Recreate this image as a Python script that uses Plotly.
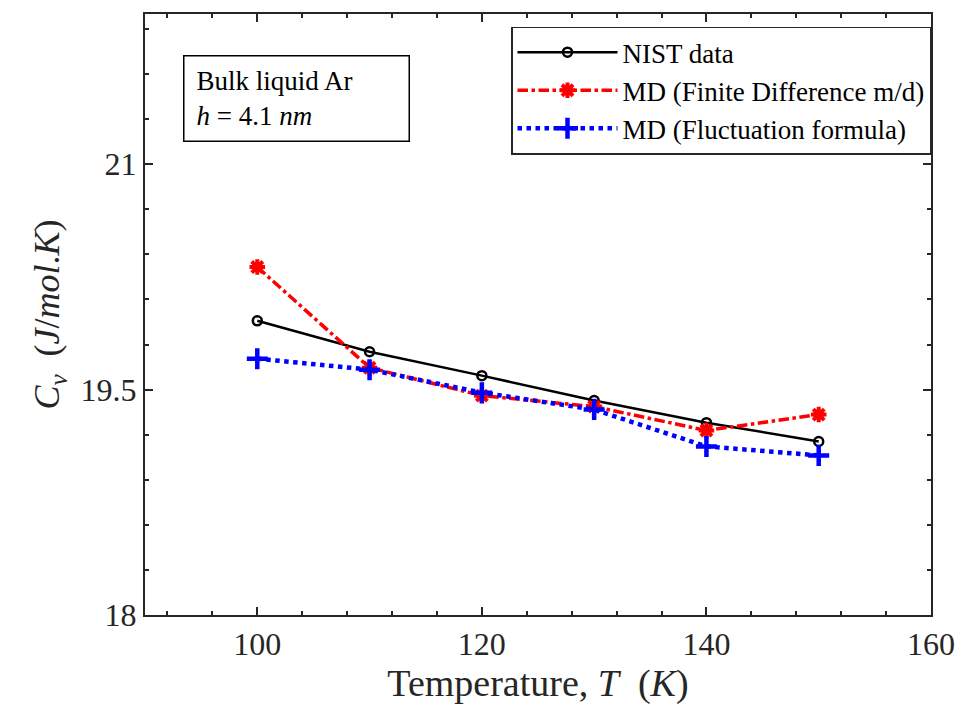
import plotly.graph_objects as go

temperature = [100, 110, 120, 130, 140, 150]
nist_cv = [19.958, 19.752, 19.593, 19.427, 19.280, 19.155]
md_finite_diff = [20.316, 19.646, 19.460, 19.387, 19.228, 19.334]
md_fluctuation = [19.706, 19.633, 19.480, 19.367, 19.122, 19.062]

x_ticks = [100, 120, 140, 160]
y_ticks = [18, 19.5, 21]

FONT = "Liberation Serif, Tinos, Times New Roman, DejaVu Serif, serif"

fig = go.Figure()
fig.add_trace(go.Scatter(
    x=temperature, y=nist_cv, mode="lines+markers", name="NIST data",
    line=dict(color="black", width=2.5),
    marker=dict(symbol="circle-open", size=9, color="black", line=dict(width=2.5))))
fig.add_trace(go.Scatter(
    x=temperature, y=md_finite_diff, mode="lines+markers",
    name="MD (Finite Difference m/d)",
    line=dict(color="red", width=3.5, dash="dashdot"),
    marker=dict(symbol="asterisk-open", size=13, color="red", line=dict(width=4, color="red"))))
fig.add_trace(go.Scatter(
    x=temperature, y=md_fluctuation, mode="lines+markers",
    name="MD (Fluctuation formula)",
    line=dict(color="blue", width=4.5, dash="dot"),
    marker=dict(symbol="cross-thin-open", size=15, color="blue", line=dict(width=4.5, color="blue"))))

axis_common = dict(
    showline=True, linecolor="#262626", linewidth=2, mirror="ticks",
    ticks="inside", ticklen=8, tickwidth=2, tickcolor="#262626",
    showgrid=False, zeroline=False,
    tickfont=dict(family=FONT, size=32, color="#262626"),
)

fig.update_xaxes(
    range=[90, 160], tickvals=x_ticks,
    minor=dict(ticks="inside", ticklen=4, tickwidth=2, tickcolor="#262626", dtick=4, tick0=100),
    title=dict(text="Temperature,&nbsp;<i>T</i>&nbsp;&nbsp;(<i>K</i>)", font=dict(family=FONT, size=38, color="#262626"), standoff=4),
    **axis_common)
fig.update_yaxes(
    range=[18, 22], tickvals=y_ticks, ticktext=["18", "19.5", "21"],
    minor=dict(ticks="inside", ticklen=4, tickwidth=2, tickcolor="#262626", dtick=0.3, tick0=18),
    title=dict(text="<i>C</i><sub><i>v</i></sub>&nbsp;&nbsp;(<i>J</i>/<i>mol</i>.<i>K</i>)", font=dict(family=FONT, size=36, color="#262626"), standoff=10),
    **axis_common)

fig.add_annotation(
    x=0.0485, y=0.86, xref="paper", yref="paper", xanchor="left", yanchor="middle",
    text="Bulk liquid Ar<br><i>h</i> = 4.1 <i>nm</i>", showarrow=False, align="left",
    width=200, height=60,
    font=dict(family=FONT, size=27, color="black"),
    bordercolor="black", borderwidth=1.5, borderpad=12, bgcolor="white")

fig.update_layout(
    width=967, height=719,
    font=dict(family=FONT, color="black"),
    margin=dict(l=145, r=32, t=12, b=104),
    plot_bgcolor="white", paper_bgcolor="white",
    legend=dict(x=1.0, y=0.979, xanchor="right", yanchor="top",
                bordercolor="#262626", borderwidth=1.5, bgcolor="white",
                font=dict(family=FONT, size=27, color="black"),
                itemwidth=100, tracegroupgap=0),
)

fig.write_html("out.html")
